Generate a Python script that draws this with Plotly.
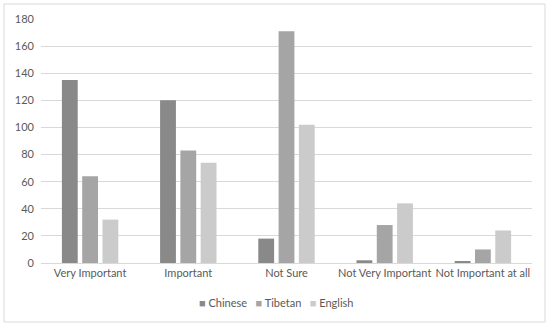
import plotly.graph_objects as go

categories = ["Very Important", "Important", "Not Sure", "Not Very Important", "Not Important at all"]
chinese = [135, 120, 18, 2, 1]
tibetan = [64, 83, 171, 28, 10]
english = [32, 74, 102, 44, 24]
series_names = ["Chinese", "Tibetan", "English"]
colors = ["#898989", "#a5a5a5", "#cbcbcb"]

fig = go.Figure()
for name, vals, c in zip(series_names, [chinese, tibetan, english], colors):
    fig.add_trace(go.Bar(x=categories, y=vals, name=name, showlegend=False,
                         marker=dict(color=c, line=dict(width=0))))

W, H = 550, 327
ml, mr, mt, mb = 41, 18, 19, 64
pw, ph = W - ml - mr, H - mt - mb

fnt = "Lato, Open Sans, sans-serif"

# custom compact legend (Excel style small squares)
legend_text = "&nbsp;&nbsp;&nbsp;".join(
    f"<span style='color:{c}'>■</span> {n}" for n, c in zip(series_names, colors))

fig.update_layout(
    width=W, height=H,
    margin=dict(l=ml, r=mr, t=mt, b=mb, autoexpand=False),
    paper_bgcolor="white", plot_bgcolor="white",
    barmode="group", bargap=0.38, bargroupgap=0.22,
    font=dict(family=fnt, size=11, color="#595959"),
    showlegend=False,
    xaxis=dict(showline=True, linecolor="#d9d9d9", linewidth=1, ticks="", tickangle=0,
               automargin=False, tickfont=dict(family=fnt, size=11, color="#595959")),
    yaxis=dict(range=[0, 180], dtick=20, showgrid=True, gridcolor="#d9d9d9", gridwidth=1,
               zeroline=False, showline=False, ticks="", automargin=False,
               tickfont=dict(family=fnt, size=11, color="#595959"), ticklabelstandoff=6),
    annotations=[dict(text=legend_text, xref="paper", yref="paper", x=(276 - ml) / pw,
                      y=-(302 - (H - mb)) / ph, xanchor="center", yanchor="middle",
                      showarrow=False, font=dict(family=fnt, size=11, color="#595959"))],
    shapes=[dict(type="rect", xref="paper", yref="paper",
                 x0=(4 - ml) / pw, x1=(545 - ml) / pw,
                 y0=(H - mb - 322) / ph, y1=(H - mb - 4) / ph,
                 line=dict(color="#d9d9d9", width=1), fillcolor="rgba(0,0,0,0)", layer="below")],
)

fig.write_html("out.html", config={"displayModeBar": False},
               post_script="document.body.style.margin='0';")
